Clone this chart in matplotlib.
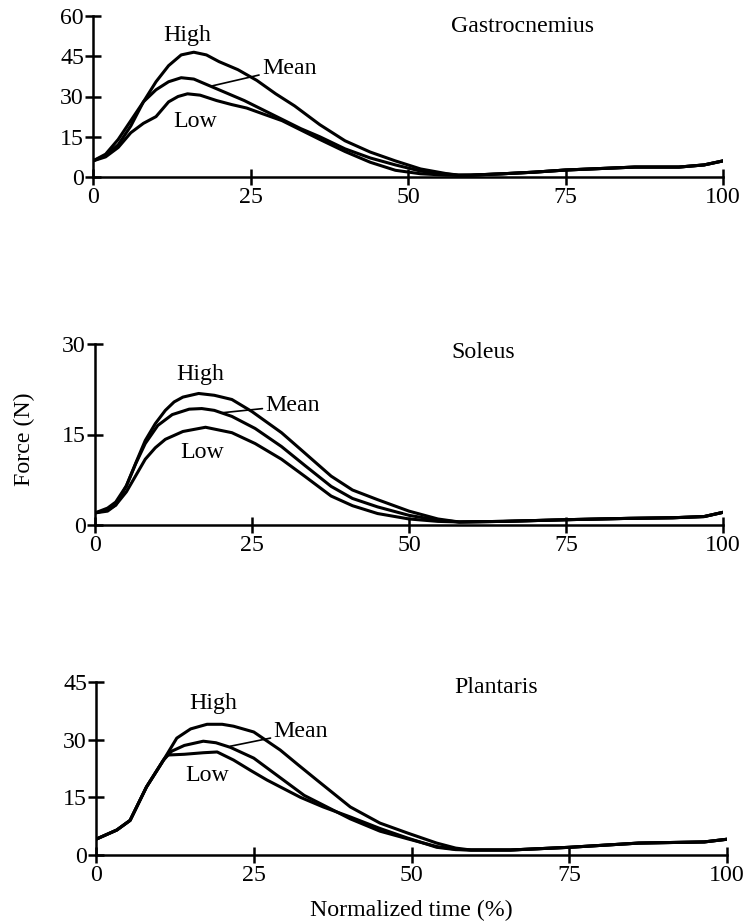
import matplotlib
matplotlib.use("Agg")
import matplotlib.pyplot as plt

plt.rcParams['font.family'] = ['Liberation Serif', 'DejaVu Serif']
FS = 17.2

# ---------------- data ----------------
tail_t = [60, 65, 70, 75, 80, 86, 93, 97, 100]

# Gastrocnemius
g_high_t = [0, 2, 4, 6, 8, 10, 12, 14, 16, 18, 20, 23, 26, 29, 32, 36, 40, 44, 48, 52, 56, 58] + tail_t
g_high_y = [6, 8, 12, 19, 28, 35.5, 41.5, 45.5, 46.5, 45.5, 43, 40, 36, 31, 26.5, 19.5, 13.5, 9.3, 6, 3, 1.3, 0.7] + [0.7, 1.2, 1.8, 2.6, 3.1, 3.7, 3.7, 4.5, 6]
g_mean_t = [0, 2, 4, 6, 8, 10, 12, 14, 16, 18, 21, 24, 27, 30, 33, 36, 40, 44, 48, 52, 56, 58] + tail_t
g_mean_y = [6, 8.5, 14, 21, 28, 32.5, 35.5, 37, 36.5, 34.5, 31.5, 28.5, 25, 21.5, 18, 15, 10.5, 7.1, 4.5, 2.2, 1.1, 0.7] + [0.7, 1.2, 1.8, 2.6, 3.1, 3.7, 3.7, 4.5, 6]
g_low_t = [0, 2, 4, 6, 8, 10, 12, 13.5, 15, 17, 19.6, 22, 24.4, 27, 30, 33, 36, 40, 44, 48, 52, 56, 58] + tail_t
g_low_y = [6, 7.5, 11, 16.5, 20, 22.5, 28, 30, 31, 30.5, 28.5, 27, 25.7, 23.5, 21, 17.5, 14, 9.5, 5.5, 2.5, 1.2, 0.7, 0.6] + [0.7, 1.2, 1.8, 2.6, 3.1, 3.7, 3.7, 4.5, 6]

# Soleus
s_tail_t = [58, 65, 76, 85, 92, 97, 100]
s_tail_y = [0.5, 0.6, 0.9, 1.1, 1.2, 1.4, 2.1]
s_high_t = [0, 2, 3.3, 5, 6.5, 8, 9.6, 11.2, 12.6, 14, 16.5, 19, 21.8, 25, 29.7, 33, 37.6, 41, 45, 50, 54.6] + s_tail_t
s_high_y = [2, 2.8, 3.8, 6.5, 10.3, 14, 16.8, 19, 20.4, 21.2, 21.8, 21.5, 20.8, 18.8, 15.3, 12.3, 8.1, 5.8, 4.2, 2.3, 1.0] + s_tail_y
s_mean_t = [0, 2, 3.3, 5, 6.5, 8, 10, 12.3, 15, 17, 19, 21.8, 25.5, 29.7, 33.5, 37.6, 41, 45, 50, 54.6] + s_tail_t
s_mean_y = [2, 2.5, 3.3, 6.5, 10.2, 13.5, 16.5, 18.3, 19.2, 19.3, 19, 18, 16, 13, 9.8, 6.4, 4.4, 3.0, 1.6, 0.8] + s_tail_y
s_low_t = [0, 2, 3.3, 5, 6.5, 8, 9.6, 11.2, 14, 17.6, 21.8, 25.5, 29.7, 33.5, 37.6, 41, 45, 50, 54.6] + s_tail_t
s_low_y = [2, 2.3, 3.3, 5.5, 8.2, 10.9, 12.8, 14.2, 15.5, 16.2, 15.3, 13.5, 10.9, 8, 4.8, 3.2, 1.9, 1.0, 0.6] + s_tail_y

# Plantaris
p_head_t = [0, 3.3, 5.4, 8, 10.7]
p_head_y = [4.1, 6.5, 9, 17.7, 24.7]
p_tail_t = [59.4, 65.7, 75, 86, 96.4, 100]
p_tail_y = [1.3, 1.3, 2.0, 3.1, 3.4, 4.1]
p_high_t = p_head_t + [12.8, 15, 17.6, 20, 21.8, 25, 29.2, 32, 35, 40.3, 45, 49.4, 54, 57] + p_tail_t
p_high_y = p_head_y + [30.4, 32.8, 34, 34, 33.5, 32, 27.3, 23.5, 19.5, 12.5, 8.3, 5.7, 3.1, 1.8] + p_tail_y
p_mean_t = p_head_t + [12, 14, 17, 19, 21.3, 25, 29.7, 33, 36, 40.3, 45, 49.4, 54, 57] + p_tail_t
p_mean_y = p_head_y + [27, 28.5, 29.6, 29.2, 28, 25.2, 19.5, 15.5, 13, 9.4, 6.2, 4.2, 2.2, 1.5] + p_tail_y
p_low_t = p_head_t + [11.3, 14, 17, 19.2, 21.8, 24.5, 27.1, 32.4, 36, 40.3, 45, 49.4, 54, 57] + p_tail_t
p_low_y = p_head_y + [26, 26.2, 26.6, 26.8, 24.7, 22, 19.5, 15, 12.5, 9.9, 6.9, 4.4, 2.0, 1.4] + p_tail_y

titles = ["Gastrocnemius", "Soleus", "Plantaris"]
ymaxes = [60, 30, 45]
yticks = [[0, 15, 30, 45, 60], [0, 15, 30], [0, 15, 30, 45]]
xticks = [0, 25, 50, 75, 100]

series = [
    [(g_high_t, g_high_y), (g_mean_t, g_mean_y), (g_low_t, g_low_y)],
    [(s_high_t, s_high_y), (s_mean_t, s_mean_y), (s_low_t, s_low_y)],
    [(p_high_t, p_high_y), (p_mean_t, p_mean_y), (p_low_t, p_low_y)],
]

# label placements (data coords)
title_pos = [(56.8, 56), (56.8, 28.6), (56.8, 43.5)]
high_pos = [(14.9, 52.6), (16.8, 25), (18.6, 39.5)]
low_pos = [(16.2, 20.5), (17.1, 12), (17.6, 20.8)]
mean_txt = [(26.8, 40.6), (27.1, 19.8), (28.1, 32)]
mean_pt = [(19, 34), (20.2, 18.6), (21.3, 28.3)]

# ---------------- figure ----------------
fig = plt.figure(figsize=(7.46, 9.24), dpi=100)
rects = [
    [93 / 746, 1 - 177 / 924, (723 - 93) / 746, (177 - 16) / 924],
    [95 / 746, 1 - 525 / 924, (723 - 95) / 746, (525 - 344) / 924],
    [96 / 746, 1 - 855 / 924, (727 - 96) / 746, (855 - 682) / 924],
]

for i in range(3):
    ax = fig.add_axes(rects[i])
    for t, y in series[i]:
        ax.plot(t, y, color='black', lw=2.2, solid_capstyle='round', solid_joinstyle='round')
    ax.set_xlim(0, 100)
    ax.set_ylim(0, ymaxes[i])
    ax.set_xticks(xticks)
    ax.set_yticks(yticks[i])
    for s in ['top', 'right']:
        ax.spines[s].set_visible(False)
    for s in ['left', 'bottom']:
        ax.spines[s].set_linewidth(1.8)
    ax.tick_params(direction='inout', length=11, width=1.8, labelsize=FS, pad=1)
    ax.tick_params(axis='x', pad=2)
    ax.text(*title_pos[i], titles[i], fontsize=FS, ha='left', va='center')
    ax.text(*high_pos[i], "High", fontsize=FS, ha='center', va='center')
    ax.text(*low_pos[i], "Low", fontsize=FS, ha='center', va='center')
    ax.annotate("Mean", xy=mean_pt[i], xytext=mean_txt[i], fontsize=FS,
                ha='left', va='center',
                arrowprops=dict(arrowstyle='-', color='black', lw=1.2,
                                shrinkA=0, shrinkB=0))

fig.text(24 / 746, 1 - 439 / 924, "Force (N)", rotation=90, fontsize=FS,
         ha='center', va='center')
fig.text(411 / 746, 1 - 910 / 924, "Normalized time (%)", fontsize=FS,
         ha='center', va='center')

fig.savefig("out.png", dpi=100)
